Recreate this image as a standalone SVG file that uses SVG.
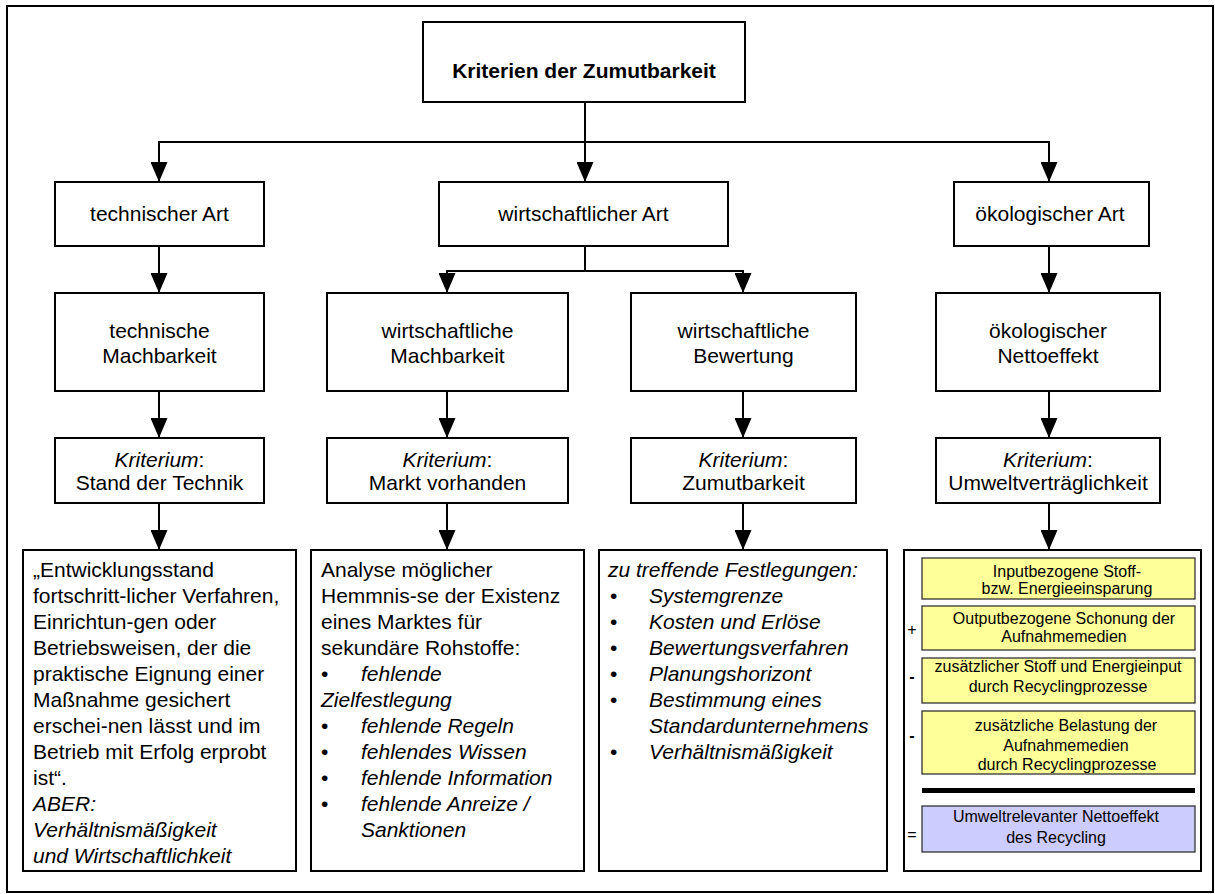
<svg xmlns="http://www.w3.org/2000/svg" width="1215" height="894" viewBox="0 0 1215 894">
<style>
.box{fill:#fff;stroke:#000;stroke-width:2}
.t{font-family:"Liberation Sans",Arial,Helvetica,sans-serif;font-size:21px;fill:#000}
.c{text-anchor:middle}
.b{font-weight:bold}
.i{font-style:italic}
.s{font-size:16px}
.yel{fill:#FFFF99;stroke:#333;stroke-width:1.3}
.blu{fill:#CCCCFF;stroke:#333;stroke-width:1.3}
.conn{stroke:#000;stroke-width:2;fill:none;marker-end:url(#ah)}
</style>
<defs>
<marker id="ah" viewBox="0 0 20 17" refX="20" refY="8.5" markerWidth="20" markerHeight="17" markerUnits="userSpaceOnUse" orient="auto">
<path d="M0,0 L20,8.5 L0,17 Z" fill="#000"/>
</marker>
</defs>
<rect x="7" y="6" width="1206" height="886" fill="#fff" stroke="#000" stroke-width="2"/>

<g id="connectors">
<path class="conn" d="M585,102 V182"/>
<path class="conn" d="M585,142 H159 V182"/>
<path class="conn" d="M585,142 H1049 V182"/>
<path class="conn" d="M159,246 V293"/>
<path class="conn" d="M585,246 V271 H447 V293"/>
<path class="conn" d="M585,271 H743 V293"/>
<path class="conn" d="M1049,246 V293"/>
<path class="conn" d="M159,391 V438"/>
<path class="conn" d="M447,391 V438"/>
<path class="conn" d="M743,391 V438"/>
<path class="conn" d="M1049,391 V438"/>
<path class="conn" d="M159,503 V550"/>
<path class="conn" d="M447,503 V550"/>
<path class="conn" d="M743,503 V550"/>
<path class="conn" d="M1049,503 V550"/>
</g>

<g id="root">
<rect class="box" x="423" y="22" width="322" height="80"/>
<text class="t c b" x="584" y="78">Kriterien der Zumutbarkeit</text>
</g>

<g id="tech-art">
<rect class="box" x="55" y="182" width="209" height="64"/>
<text class="t c" x="159.5" y="221">technischer Art</text>
</g>
<g id="wirt-art">
<rect class="box" x="439" y="182" width="289" height="64"/>
<text class="t c" x="583.5" y="221">wirtschaftlicher Art</text>
</g>
<g id="oeko-art">
<rect class="box" x="954" y="182" width="195" height="64"/>
<text class="t c" x="1050" y="221">ökologischer Art</text>
</g>

<g id="tech-mach">
<rect class="box" x="55" y="293" width="209" height="98"/>
<text class="t c" x="159.5" y="338">technische</text>
<text class="t c" x="159.5" y="363">Machbarkeit</text>
</g>
<g id="wirt-mach">
<rect class="box" x="327" y="293" width="241" height="98"/>
<text class="t c" x="447.5" y="338">wirtschaftliche</text>
<text class="t c" x="447.5" y="363">Machbarkeit</text>
</g>
<g id="wirt-bew">
<rect class="box" x="631" y="293" width="225" height="98"/>
<text class="t c" x="743.5" y="338">wirtschaftliche</text>
<text class="t c" x="743.5" y="363">Bewertung</text>
</g>
<g id="oeko-netto">
<rect class="box" x="936" y="293" width="224" height="98"/>
<text class="t c" x="1048" y="338">ökologischer</text>
<text class="t c" x="1048" y="363">Nettoeffekt</text>
</g>

<g id="krit-tech">
<rect class="box" x="55" y="438" width="209" height="65"/>
<text class="t c" x="159.5" y="467"><tspan class="i">Kriterium</tspan>:</text>
<text class="t c" x="159.5" y="490">Stand der Technik</text>
</g>
<g id="krit-markt">
<rect class="box" x="327" y="438" width="241" height="65"/>
<text class="t c" x="447.5" y="467"><tspan class="i">Kriterium</tspan>:</text>
<text class="t c" x="447.5" y="490">Markt vorhanden</text>
</g>
<g id="krit-zumut">
<rect class="box" x="631" y="438" width="225" height="65"/>
<text class="t c" x="743.5" y="467"><tspan class="i">Kriterium</tspan>:</text>
<text class="t c" x="743.5" y="490">Zumutbarkeit</text>
</g>
<g id="krit-umwelt">
<rect class="box" x="936" y="438" width="224" height="65"/>
<text class="t c" x="1048" y="467"><tspan class="i">Kriterium</tspan>:</text>
<text class="t c" x="1048" y="490">Umweltverträglichkeit</text>
</g>

<g id="detail-tech">
<rect class="box" x="23" y="550" width="273" height="321"/>
<text class="t" x="33" y="577">„Entwicklungsstand</text>
<text class="t" x="33" y="603">fortschritt-licher Verfahren,</text>
<text class="t" x="33" y="629">Einrichtun-gen oder</text>
<text class="t" x="33" y="655">Betriebsweisen, der die</text>
<text class="t" x="33" y="681">praktische Eignung einer</text>
<text class="t" x="33" y="707">Maßnahme gesichert</text>
<text class="t" x="33" y="733">erschei-nen lässt und im</text>
<text class="t" x="33" y="759">Betrieb mit Erfolg erprobt</text>
<text class="t" x="33" y="785">ist“.</text>
<text class="t i" x="33" y="811">ABER:</text>
<text class="t i" x="33" y="837">Verhältnismäßigkeit</text>
<text class="t i" x="33" y="863">und Wirtschaftlichkeit</text>
</g>

<g id="detail-markt">
<rect class="box" x="311" y="550" width="273" height="321"/>
<text class="t" x="321" y="577">Analyse möglicher</text>
<text class="t" x="321" y="603">Hemmnis-se der Existenz</text>
<text class="t" x="321" y="629">eines Marktes für</text>
<text class="t" x="321" y="655">sekundäre Rohstoffe:</text>
<text class="t" x="321" y="681">•</text><text class="t i" x="361" y="681">fehlende</text>
<text class="t i" x="321" y="707">Zielfestlegung</text>
<text class="t" x="321" y="733">•</text><text class="t i" x="361" y="733">fehlende Regeln</text>
<text class="t" x="321" y="759">•</text><text class="t i" x="361" y="759">fehlendes Wissen</text>
<text class="t" x="321" y="785">•</text><text class="t i" x="361" y="785">fehlende Information</text>
<text class="t" x="321" y="811">•</text><text class="t i" x="361" y="811">fehlende Anreize /</text>
<text class="t i" x="361" y="837">Sanktionen</text>
</g>

<g id="detail-zumut">
<rect class="box" x="599" y="550" width="288" height="321"/>
<text class="t i" x="608" y="577">zu treffende Festlegungen:</text>
<text class="t" x="610" y="603">•</text><text class="t i" x="649" y="603">Systemgrenze</text>
<text class="t" x="610" y="629">•</text><text class="t i" x="649" y="629">Kosten und Erlöse</text>
<text class="t" x="610" y="655">•</text><text class="t i" x="649" y="655">Bewertungsverfahren</text>
<text class="t" x="610" y="681">•</text><text class="t i" x="649" y="681">Planungshorizont</text>
<text class="t" x="610" y="707">•</text><text class="t i" x="649" y="707">Bestimmung eines</text>
<text class="t i" x="649" y="733">Standardunternehmens</text>
<text class="t" x="610" y="759">•</text><text class="t i" x="649" y="759">Verhältnismäßigkeit</text>
</g>

<g id="detail-umwelt">
<rect class="box" x="904" y="550" width="297" height="321"/>
<rect class="yel" x="922" y="558" width="273" height="41"/>
<text class="t s c" x="1067" y="577">Inputbezogene Stoff-</text>
<text class="t s c" x="1067" y="594">bzw. Energieeinsparung</text>
<text class="t s c" x="912" y="635">+</text>
<rect class="yel" x="922" y="606" width="273" height="44"/>
<text class="t s c" x="1064" y="624">Outputbezogene Schonung der</text>
<text class="t s c" x="1064" y="642">Aufnahmemedien</text>
<text class="t s c b" x="912" y="682">-</text>
<rect class="yel" x="922" y="658" width="273" height="45"/>
<text class="t s c" x="1058" y="672">zusätzlicher Stoff und Energieinput</text>
<text class="t s c" x="1058" y="692">durch Recyclingprozesse</text>
<text class="t s c b" x="912" y="741">-</text>
<rect class="yel" x="922" y="711" width="273" height="63"/>
<text class="t s c" x="1066" y="731">zusätzliche Belastung der</text>
<text class="t s c" x="1066" y="751">Aufnahmemedien</text>
<text class="t s c" x="1067" y="770">durch Recyclingprozesse</text>
<rect x="922" y="788" width="273" height="5" fill="#000"/>
<text class="t s c" x="912" y="840">=</text>
<rect class="blu" x="922" y="806" width="273" height="46"/>
<text class="t s c" x="1056" y="822">Umweltrelevanter Nettoeffekt</text>
<text class="t s c" x="1056" y="843">des Recycling</text>
</g>
</svg>
